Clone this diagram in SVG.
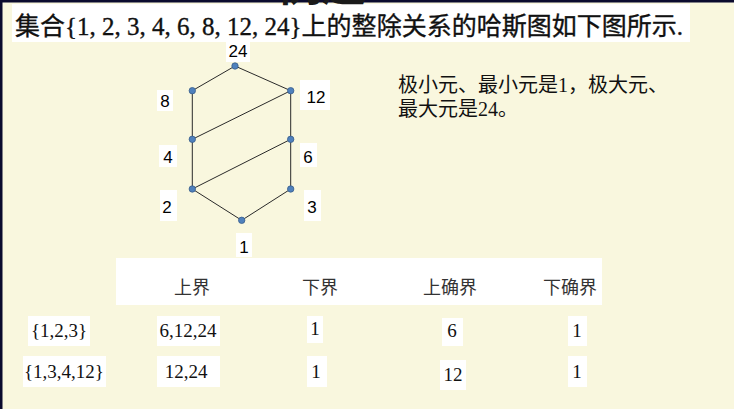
<svg xmlns="http://www.w3.org/2000/svg" width="734" height="409" viewBox="0 0 734 409">
<style>
.bg{fill:#F9F7DE}
.wb{fill:#FFFFFF}
.ser{font-family:"Liberation Serif","Noto Sans CJK SC",serif;fill:#111}
.lab{font-family:"Liberation Sans",Arial,sans-serif;font-size:17px;fill:#000;text-anchor:middle}
.edge{stroke:#2a2a2a;stroke-width:1;fill:none}
.dot{fill:#4F81BD;stroke:#385D8A;stroke-width:0.8}
.th{font-family:"Liberation Serif","Noto Sans CJK SC",serif;font-size:18px;fill:#333;text-anchor:middle}
.td{font-family:"Liberation Serif","Noto Sans CJK SC",serif;font-size:19px;fill:#111;text-anchor:middle}
</style>
<rect class="bg" x="0" y="0" width="734" height="409"/>
<rect x="0" y="0" width="734" height="2.5" fill="#0B0B2E"/>
<rect x="0" y="0" width="2.5" height="409" fill="#0B0B2E"/>

<g id="title">
<rect class="wb" x="12" y="4" width="678" height="38"/>
<text class="ser" x="15" y="35" font-size="25" stroke="#111" stroke-width="0.35" textLength="668" lengthAdjust="spacingAndGlyphs">集合{1, 2, 3, 4, 6, 8, 12, 24}上的整除关系的哈斯图如下图所示.</text>
</g>
<g id="heading">
<text x="278" y="1" font-family="Noto Sans CJK SC,sans-serif" font-size="44" font-weight="bold" fill="#1a1a1a">例题</text>
</g>

<g id="connectors">
<line class="edge" x1="235" y1="66" x2="192.3" y2="90.7"/>
<line class="edge" x1="235" y1="66" x2="290.7" y2="90.7"/>
<line class="edge" x1="192.3" y1="90.7" x2="192.3" y2="139.3"/>
<line class="edge" x1="290.7" y1="90.7" x2="290.7" y2="139.3"/>
<line class="edge" x1="192.3" y1="139.3" x2="290.7" y2="90.7"/>
<line class="edge" x1="192.3" y1="139.3" x2="192.3" y2="189"/>
<line class="edge" x1="192.3" y1="189" x2="290.7" y2="139.3"/>
<line class="edge" x1="290.7" y1="139.3" x2="290.7" y2="189"/>
<line class="edge" x1="192.3" y1="189" x2="241.7" y2="220.3"/>
<line class="edge" x1="290.7" y1="189" x2="241.7" y2="220.3"/>
</g>

<g id="n24"><rect class="wb" x="226" y="41" width="24" height="21"/><text class="lab" x="238" y="57">24</text><circle class="dot" cx="235" cy="66" r="3.2"/></g>
<g id="n8"><rect class="wb" x="157" y="90" width="16" height="21"/><text class="lab" x="165" y="107">8</text><circle class="dot" cx="192.3" cy="90.7" r="3.2"/></g>
<g id="n12"><rect class="wb" x="300" y="80" width="30" height="30"/><text class="lab" x="316" y="103">12</text><circle class="dot" cx="290.7" cy="90.7" r="3.2"/></g>
<g id="n4"><rect class="wb" x="159" y="145" width="18" height="22"/><text class="lab" x="168" y="163">4</text><circle class="dot" cx="192.3" cy="139.3" r="3.2"/></g>
<g id="n6"><rect class="wb" x="300" y="143" width="17" height="24"/><text class="lab" x="308" y="163">6</text><circle class="dot" cx="290.7" cy="139.3" r="3.2"/></g>
<g id="n2"><rect class="wb" x="160" y="190" width="17" height="31"/><text class="lab" x="167" y="213">2</text><circle class="dot" cx="192.3" cy="189" r="3.2"/></g>
<g id="n3"><rect class="wb" x="304" y="190" width="17" height="31"/><text class="lab" x="312" y="213">3</text><circle class="dot" cx="290.7" cy="189" r="3.2"/></g>
<g id="n1"><rect class="wb" x="236" y="233" width="16" height="24"/><text class="lab" x="244" y="253">1</text><circle class="dot" cx="241.7" cy="220.3" r="3.2"/></g>

<g id="note">
<text class="ser" x="398" y="92" font-size="20">极小元、最小元是1，极大元、</text>
<text class="ser" x="398" y="116" font-size="20">最大元是24。</text>
</g>

<g id="table">
<rect class="wb" x="116" y="258" width="486" height="47"/>
<text class="th" x="192" y="294">上界</text>
<text class="th" x="320" y="294">下界</text>
<text class="th" x="450" y="294">上确界</text>
<text class="th" x="570" y="294">下确界</text>

<rect class="wb" x="28" y="316" width="62" height="30"/><text class="td" x="59" y="337">{1,2,3}</text>
<rect class="wb" x="157" y="316" width="63" height="30"/><text class="td" x="188" y="337">6,12,24</text>
<rect class="wb" x="307" y="316" width="16" height="27"/><text class="td" x="315" y="335">1</text>
<rect class="wb" x="442" y="318" width="21" height="28"/><text class="td" x="452" y="337">6</text>
<rect class="wb" x="568" y="316" width="19" height="30"/><text class="td" x="577" y="337">1</text>

<rect class="wb" x="23" y="356" width="83" height="31"/><text class="td" x="64" y="378">{1,3,4,12}</text>
<rect class="wb" x="157" y="356" width="63" height="31"/><text class="td" x="186" y="378">12,24</text>
<rect class="wb" x="307" y="356" width="20" height="31"/><text class="td" x="316" y="378">1</text>
<rect class="wb" x="440" y="360" width="26" height="30"/><text class="td" x="453" y="381">12</text>
<rect class="wb" x="568" y="356" width="19" height="31"/><text class="td" x="577" y="378">1</text>
</g>
</svg>
